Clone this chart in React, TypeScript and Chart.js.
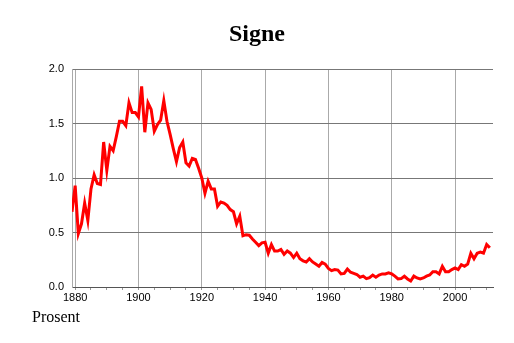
import React, { useEffect, useRef } from "react";
import { Chart, registerables } from "chart.js";

Chart.register(...registerables);

const TITLE = "Signe";
const UNIT_LABEL = "Prosent";
const START_YEAR = 1879;
const X_MIN = 1879;
const X_MAX = 2012;
const X_TICKS = [1880, 1885, 1890, 1895, 1900, 1905, 1910, 1915, 1920, 1925, 1930, 1935, 1940, 1945, 1950, 1955, 1960, 1965, 1970, 1975, 1980, 1985, 1990, 1995, 2000, 2005, 2010];
const X_LABELED = [1880, 1900, 1920, 1940, 1960, 1980, 2000];
const Y_TICKS = [0, 0.5, 1.0, 1.5, 2.0];

// Share (percent) per year, 1879–2011
const VALUES_1879_1899 = [0.69, 0.93, 0.49, 0.58, 0.77, 0.61, 0.9, 1.03, 0.95, 0.94, 1.33, 1.07, 1.29, 1.25, 1.38, 1.52, 1.52, 1.48, 1.69, 1.6, 1.6];
const VALUES_1900_1919 = [1.56, 1.84, 1.42, 1.69, 1.63, 1.43, 1.49, 1.53, 1.71, 1.52, 1.4, 1.27, 1.15, 1.28, 1.33, 1.14, 1.11, 1.18, 1.17, 1.09];
const VALUES_1920_1939 = [1.0, 0.86, 0.97, 0.9, 0.9, 0.74, 0.78, 0.77, 0.75, 0.71, 0.69, 0.58, 0.65, 0.47, 0.48, 0.475, 0.44, 0.41, 0.38, 0.405];
const VALUES_1940_1959 = [0.41, 0.31, 0.39, 0.33, 0.33, 0.345, 0.3, 0.33, 0.31, 0.27, 0.31, 0.26, 0.24, 0.23, 0.26, 0.23, 0.21, 0.19, 0.225, 0.21];
const VALUES_1960_1979 = [0.17, 0.15, 0.16, 0.155, 0.12, 0.125, 0.165, 0.135, 0.125, 0.115, 0.09, 0.1, 0.077, 0.086, 0.11, 0.09, 0.11, 0.12, 0.12, 0.13];
const VALUES_1980_1999 = [0.12, 0.1, 0.074, 0.077, 0.1, 0.074, 0.055, 0.1, 0.083, 0.074, 0.083, 0.1, 0.11, 0.14, 0.14, 0.12, 0.19, 0.14, 0.14, 0.16];
const VALUES_2000_2011 = [0.175, 0.16, 0.205, 0.19, 0.21, 0.31, 0.26, 0.31, 0.32, 0.31, 0.39, 0.36];

const VALUES = [
  ...VALUES_1879_1899,
  ...VALUES_1900_1919,
  ...VALUES_1920_1939,
  ...VALUES_1940_1959,
  ...VALUES_1960_1979,
  ...VALUES_1980_1999,
  ...VALUES_2000_2011,
];

const textPlugin = {
  id: "texts",
  afterDraw(chart: any) {
    const ctx = chart.ctx;
    ctx.save();
    ctx.fillStyle = "#000";
    ctx.textBaseline = "alphabetic";
    ctx.textAlign = "center";
    ctx.font = 'bold 24px "Liberation Serif", "Times New Roman", serif';
    ctx.fillText(TITLE, 257, 41);
    ctx.textAlign = "left";
    ctx.font = '16px "Liberation Serif", "Times New Roman", serif';
    ctx.fillText(UNIT_LABEL, 32, 322);
    ctx.restore();
  },
};

export default function App() {
  const ref = useRef<HTMLCanvasElement | null>(null);

  useEffect(() => {
    if (!ref.current) return;
    const points = VALUES.map((v, i) => ({ x: START_YEAR + i, y: v }));
    const tickFont = { family: '"Liberation Sans", Arial, sans-serif', size: 11 };
    const chart = new Chart(ref.current, {
      type: "line",
      data: {
        datasets: [
          {
            data: points,
            borderColor: "#ff0000",
            borderWidth: 3,
            pointRadius: 0,
            tension: 0,
            fill: false,
          },
        ],
      },
      options: {
        animation: false,
        responsive: false,
        events: [],
        layout: { padding: { top: 69, right: 21, left: 0, bottom: 0 } },
        plugins: {
          legend: { display: false },
          title: { display: false },
          tooltip: { enabled: false },
        },
        scales: {
          x: {
            type: "linear",
            min: X_MIN,
            max: X_MAX,
            afterBuildTicks: (scale: any) => {
              scale.ticks = X_TICKS.map((v) => ({ value: v }));
            },
            afterFit: (scale: any) => {
              scale.height = 56;
            },
            ticks: {
              autoSkip: false,
              maxRotation: 0,
              padding: 1,
              color: "#000",
              font: tickFont,
              callback: (v: any) => (X_LABELED.includes(Number(v)) ? String(v) : ""),
            },
            grid: {
              color: (c: any) =>
                c.tick && X_LABELED.includes(c.tick.value) ? "#aaaaaa" : "rgba(0,0,0,0)",
              tickColor: "#999999",
              tickLength: 3,
              lineWidth: 1,
            },
            border: { display: true, color: "#555555", width: 1 },
          },
          y: {
            min: 0,
            max: 2,
            afterBuildTicks: (scale: any) => {
              scale.ticks = Y_TICKS.map((v) => ({ value: v }));
            },
            afterFit: (scale: any) => {
              scale.width = 72;
            },
            ticks: {
              padding: 8,
              color: "#000",
              font: tickFont,
              callback: (v: any) => Number(v).toFixed(1),
            },
            grid: {
              color: "#777777",
              lineWidth: 1,
              drawTicks: false,
            },
            border: { display: true, color: "#aaaaaa", width: 1 },
          },
        },
      },
      plugins: [textPlugin],
    });
    return () => chart.destroy();
  }, []);

  return (
    <div style={{ position: "fixed", left: 0, top: 0, width: 514, height: 343, background: "#fff" }}>
      <canvas ref={ref} width={514} height={343} style={{ display: "block" }} />
    </div>
  );
}
